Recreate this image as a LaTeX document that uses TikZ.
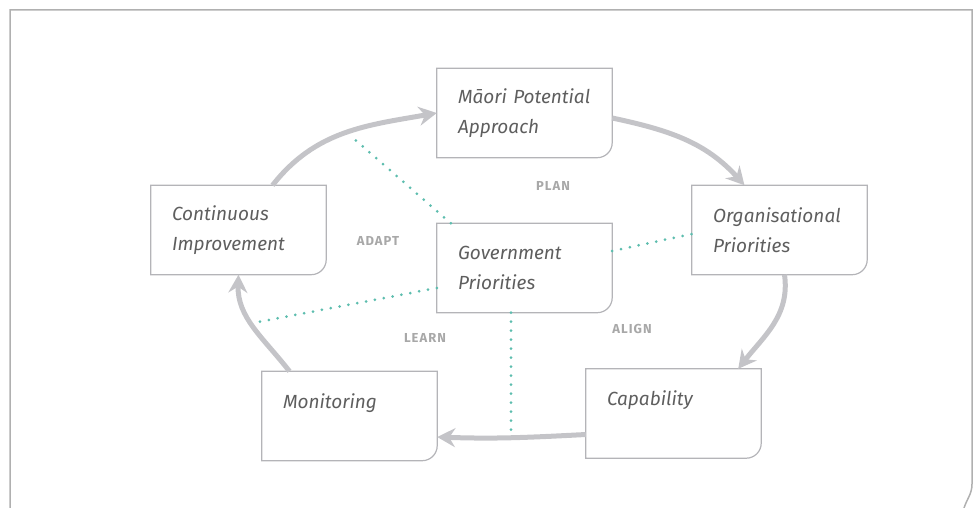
\documentclass[tikz,border=0pt]{standalone}
\usepackage{fontspec}
\setsansfont{Fira Sans}
\renewcommand{\familydefault}{\sfdefault}
\usetikzlibrary{positioning}
\usetikzlibrary{arrows.meta}
\definecolor{cardline}{HTML}{B4B4B8}
\definecolor{cardtext}{HTML}{5E5E5E}
\definecolor{loopgray}{HTML}{C4C4C8}
\definecolor{linkteal}{HTML}{5DBDAE}
\definecolor{stagegray}{HTML}{A8A8A8}
\definecolor{outergray}{HTML}{B0B0B0}
\tikzset{card/.style={minimum width=175pt, minimum height=89pt, text width=133pt, inner xsep=21pt, inner ysep=0pt, align=left, font=\fontsize{19}{30}\selectfont\itshape, text=cardtext}}
\tikzset{cardframe/.style={draw=cardline, line width=1.2pt}}
\tikzset{loop/.style={draw=loopgray, line width=5pt, -{Stealth[length=18pt, width=19pt, inset=6pt]}}}
\tikzset{link/.style={draw=linkteal, line width=3pt, line cap=round, dash pattern=on 0pt off 9pt}}
\tikzset{stage/.style={font=\fontsize{13}{15}\selectfont\bfseries\addfontfeature{LetterSpace=8}, text=stagegray}}

\begin{document}
\begin{tikzpicture}[x=1pt, y=-1pt, on grid]
        \useasboundingbox (0,0) rectangle (974,508);

        % page frame
        \draw[outergray, line width=1.5pt] (10,508) -- (10,10) -- (972,10) -- (972,484) to[out=-90, in=72] (964,508);

        \node[card] (gov) at (524.5,268) {Government\\Priorities};
        \node[card, above=155pt of gov] (mpa) {Māori~Potential\\Approach};
        \node[card, above left=38pt and 286pt of gov] (cont) {Continuous\\Improvement};
        \node[card, above right=38pt and 255pt of gov] (org) {Organisational\\Priorities};
        \node[card, below right=145.5pt and 149pt of gov] (cap) {Capability\\\mbox{}};
        \node[card, below left=148pt and 175pt of gov] (mon) {Monitoring\\\mbox{}};

        \foreach \n in {gov,mpa,cont,org,cap,mon}
          \draw[cardframe] (\n.south west) -- (\n.north west) -- (\n.north east)
            -- ([yshift=15pt]\n.south east) arc[start angle=0, end angle=-90, radius=15pt] -- cycle;

        \node[stage] (plan) at (553,186) {PLAN};
        \node[stage] (adapt) at (378,241) {ADAPT};
        \node[stage] (learn) at (425,338) {LEARN};
        \node[stage] (align) at (632,329) {ALIGN};

        % the cycle
        \draw[loop] ([xshift=34pt]cont.north) to[out=52, in=190] (mpa.west);
        \draw[loop] ([yshift=-5pt]mpa.east) to[out=-12, in=132] ([xshift=-35pt]org.north);
        \draw[loop] ([xshift=5pt]org.south) to[out=-82, in=52] ([xshift=-23pt]cap.north east);
        \draw[loop] ([yshift=-21pt]cap.west) to[out=183, in=-2] ([yshift=-21pt]mon.east);
        \draw[loop] ([xshift=-60pt]mon.north) to[out=128, in=-92] (cont.south);

        % links from the centre
        \coordinate (c1) at (352,137);
        \coordinate (c2) at (258,322);
        \coordinate (c3) at (511,436);
        \draw[link] ([xshift=14pt]gov.north west) -- (c1);
        \draw[link] ([yshift=17pt]gov.east) -- ([yshift=-4pt]org.west);
        \draw[link] ([yshift=-20pt]gov.west) -- (c2);
        \draw[link] ([xshift=-13.5pt]gov.south) -- (c3);
    \end{tikzpicture}
\end{document}
